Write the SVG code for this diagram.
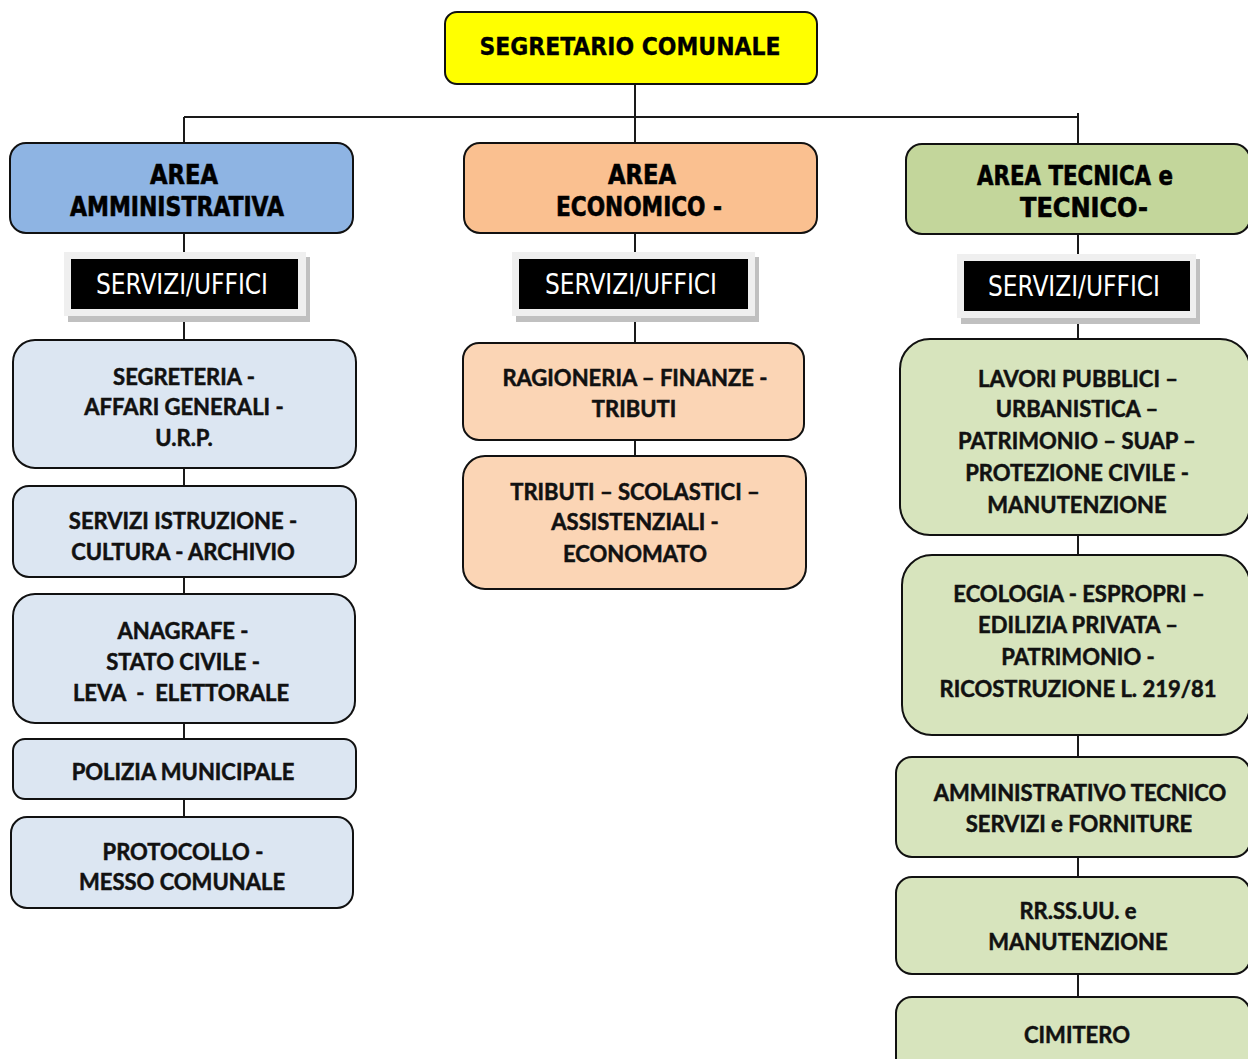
<svg xmlns="http://www.w3.org/2000/svg" width="1248" height="1059" viewBox="0 0 1248 1059">
<style>
.box{stroke:#111;stroke-width:2}
.top{fill:#FFFF00}
.hA{fill:#8EB4E3}
.hE{fill:#FAC090}
.hT{fill:#C3D69B}
.cA{fill:#DCE6F2}
.cE{fill:#FBD5B5}
.cT{fill:#D7E4BD}
.ln{stroke:#1a1a1a;stroke-width:2;fill:none}
.hd{font-family:"DejaVu Sans Condensed","DejaVu Sans",sans-serif;font-weight:bold;font-size:27px;fill:#000;stroke:#000;stroke-width:0.6px;text-anchor:middle}
.tp{font-family:"DejaVu Sans Condensed","DejaVu Sans",sans-serif;font-weight:bold;font-size:25px;fill:#000;stroke:#000;stroke-width:0.3px;text-anchor:middle}
.sv{font-family:"DejaVu Sans Condensed","DejaVu Sans",sans-serif;font-size:28px;fill:#fff;text-anchor:middle}
.tx{font-family:Lato,"Open Sans",sans-serif;font-weight:bold;font-size:22px;fill:#111;stroke:#111;stroke-width:0.5px;text-anchor:middle}
.frm{fill:#efefef}
.shd{fill:#c0c0c0}
</style>
<g id="connectors">
<path class="ln" d="M635 84V143M184 117H1078M184 117V143M1078 113V144"/>
<path class="ln" d="M184 233V817"/>
<path class="ln" d="M635 233V456"/>
<path class="ln" d="M1078 234V997"/>
</g>
<g id="segretario">
<rect class="box top" x="445" y="12" width="372" height="72" rx="12"/>
<text class="tp" x="630" y="55" textLength="301" lengthAdjust="spacingAndGlyphs">SEGRETARIO COMUNALE</text>
</g>
<g id="area-amministrativa">
<rect class="box hA" x="10" y="143" width="343" height="90" rx="16"/>
<text class="hd" x="184" y="184" textLength="68" lengthAdjust="spacingAndGlyphs">AREA</text>
<text class="hd" x="177" y="216" textLength="214" lengthAdjust="spacingAndGlyphs">AMMINISTRATIVA</text>
</g>
<g id="area-economico">
<rect class="box hE" x="464" y="143" width="353" height="90" rx="16"/>
<text class="hd" x="642" y="184" textLength="68" lengthAdjust="spacingAndGlyphs">AREA</text>
<text class="hd" x="639" y="216" textLength="166" lengthAdjust="spacingAndGlyphs">ECONOMICO -</text>
</g>
<g id="area-tecnica">
<rect class="box hT" x="906" y="144" width="344" height="90" rx="16"/>
<text class="hd" x="1075" y="185" textLength="196" lengthAdjust="spacingAndGlyphs">AREA TECNICA e</text>
<text class="hd" x="1084" y="217" textLength="128" lengthAdjust="spacingAndGlyphs">TECNICO-</text>
</g>
<g id="servizi-amministrativa">
<rect class="shd" x="68" y="257" width="242" height="65"/>
<rect class="frm" x="64" y="252" width="242" height="64"/>
<rect fill="#000" x="71" y="259" width="227" height="50"/>
<text class="sv" x="182" y="294" textLength="172" lengthAdjust="spacingAndGlyphs">SERVIZI/UFFICI</text>
</g>
<g id="servizi-economico">
<rect class="shd" x="516" y="257" width="243" height="65"/>
<rect class="frm" x="512" y="252" width="243" height="64"/>
<rect fill="#000" x="519" y="259" width="229" height="50"/>
<text class="sv" x="631" y="294" textLength="172" lengthAdjust="spacingAndGlyphs">SERVIZI/UFFICI</text>
</g>
<g id="servizi-tecnica">
<rect class="shd" x="961" y="259" width="239" height="65"/>
<rect class="frm" x="957" y="254" width="239" height="64"/>
<rect fill="#000" x="964" y="261" width="226" height="50"/>
<text class="sv" x="1074" y="296" textLength="172" lengthAdjust="spacingAndGlyphs">SERVIZI/UFFICI</text>
</g>
<g id="segreteria">
<rect class="box cA" x="13" y="340" width="343" height="128" rx="22"/>
<text class="tx" x="184" y="385">SEGRETERIA -</text>
<text class="tx" x="184" y="415">AFFARI GENERALI -</text>
<text class="tx" x="184" y="446">U.R.P.</text>
</g>
<g id="istruzione">
<rect class="box cA" x="13" y="486" width="343" height="91" rx="16"/>
<text class="tx" x="183" y="529">SERVIZI ISTRUZIONE -</text>
<text class="tx" x="183" y="560">CULTURA - ARCHIVIO</text>
</g>
<g id="anagrafe">
<rect class="box cA" x="13" y="594" width="342" height="129" rx="22"/>
<text class="tx" x="183" y="639">ANAGRAFE -</text>
<text class="tx" x="183" y="670">STATO CIVILE -</text>
<text class="tx" x="181" y="701" xml:space="preserve">LEVA  -  ELETTORALE</text>
</g>
<g id="polizia">
<rect class="box cA" x="13" y="739" width="343" height="60" rx="12"/>
<text class="tx" x="183" y="780">POLIZIA MUNICIPALE</text>
</g>
<g id="protocollo">
<rect class="box cA" x="11" y="817" width="342" height="91" rx="16"/>
<text class="tx" x="183" y="860">PROTOCOLLO -</text>
<text class="tx" x="182" y="890">MESSO COMUNALE</text>
</g>
<g id="ragioneria">
<rect class="box cE" x="463" y="343" width="341" height="97" rx="16"/>
<text class="tx" x="635" y="386">RAGIONERIA – FINANZE -</text>
<text class="tx" x="634" y="417">TRIBUTI</text>
</g>
<g id="tributi">
<rect class="box cE" x="463" y="456" width="343" height="133" rx="22"/>
<text class="tx" x="635" y="500">TRIBUTI – SCOLASTICI –</text>
<text class="tx" x="635" y="530">ASSISTENZIALI -</text>
<text class="tx" x="635" y="562">ECONOMATO</text>
</g>
<g id="lavori-pubblici">
<rect class="box cT" x="900" y="339" width="350" height="196" rx="30"/>
<text class="tx" x="1078" y="387">LAVORI PUBBLICI –</text>
<text class="tx" x="1077" y="417">URBANISTICA –</text>
<text class="tx" x="1077" y="449">PATRIMONIO – SUAP –</text>
<text class="tx" x="1077" y="481">PROTEZIONE CIVILE -</text>
<text class="tx" x="1077" y="513">MANUTENZIONE</text>
</g>
<g id="ecologia">
<rect class="box cT" x="902" y="555" width="348" height="180" rx="30"/>
<text class="tx" x="1079" y="602">ECOLOGIA - ESPROPRI –</text>
<text class="tx" x="1078" y="633">EDILIZIA PRIVATA –</text>
<text class="tx" x="1078" y="665">PATRIMONIO -</text>
<text class="tx" x="1078" y="697">RICOSTRUZIONE L. 219/81</text>
</g>
<g id="amministrativo-tecnico">
<rect class="box cT" x="896" y="757" width="354" height="100" rx="16"/>
<text class="tx" x="1080" y="801">AMMINISTRATIVO TECNICO</text>
<text class="tx" x="1079" y="832">SERVIZI e FORNITURE</text>
</g>
<g id="rrssuu">
<rect class="box cT" x="896" y="877" width="354" height="97" rx="16"/>
<text class="tx" x="1078" y="919">RR.SS.UU. e</text>
<text class="tx" x="1078" y="950">MANUTENZIONE</text>
</g>
<g id="cimitero">
<rect class="box cT" x="896" y="997" width="354" height="80" rx="16"/>
<text class="tx" x="1077" y="1043">CIMITERO</text>
</g>
</svg>
